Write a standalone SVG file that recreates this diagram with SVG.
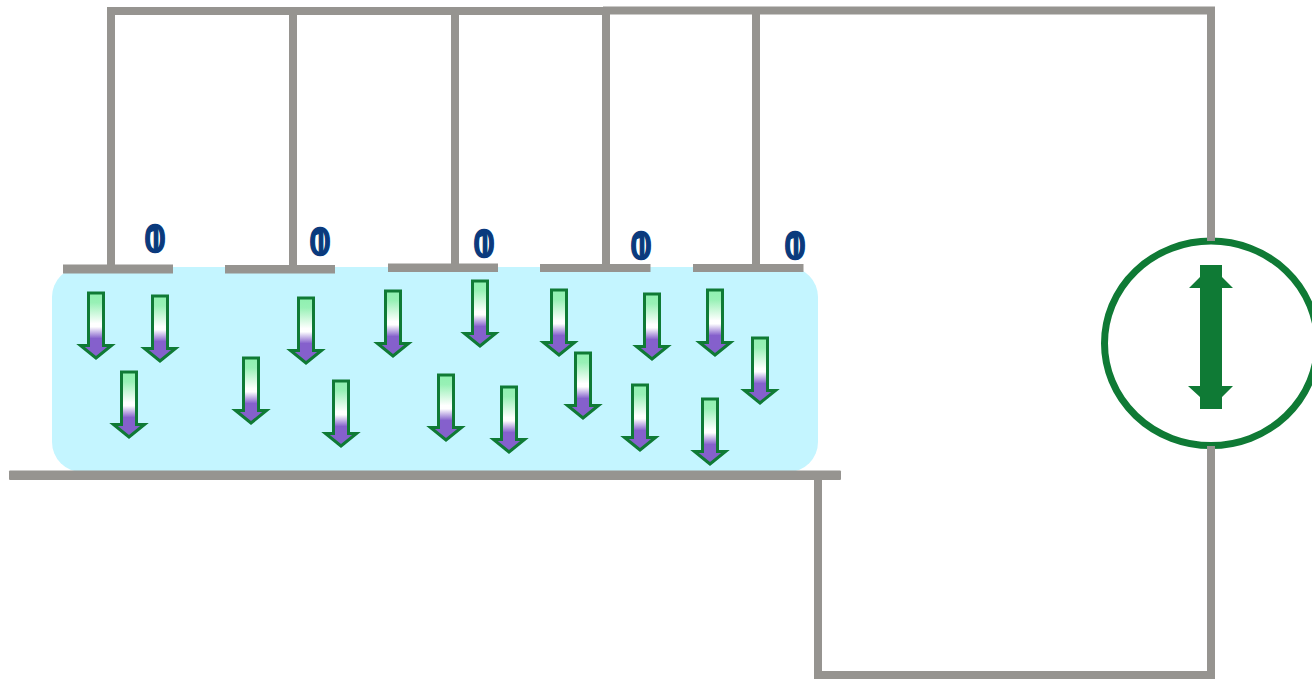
<svg xmlns="http://www.w3.org/2000/svg" width="1312" height="679" viewBox="0 0 1312 679">
<style>
.w{stroke:#969490;stroke-width:8;fill:none}
.t{font-size:37px;font-weight:400;fill:#0a3a7d;stroke:#0a3a7d;stroke-width:1.300;text-anchor:middle}
.z{font-family:"DejaVu Sans",sans-serif}
.o{font-family:Roboto,sans-serif}
.p{fill:#969490}
</style>
<defs>
<linearGradient id="g" x1="0" y1="0" x2="0" y2="1">
<stop offset="0" stop-color="#8ff0b0"/><stop offset=".15" stop-color="#98f1b6"/><stop offset=".47" stop-color="#fff"/><stop offset=".52" stop-color="#fff"/><stop offset=".7" stop-color="#8560cc"/><stop offset="1" stop-color="#8560cc"/>
</linearGradient>
<path id="a" d="M-7.500 0H7.500V52.500H15.500L0 65L-15.500 52.500H-7.500Z" fill="url(#g)" stroke="#0f7a35" stroke-width="3"/>
</defs>
<g id="electrolyte"><rect x="52" y="267" width="766" height="205" rx="30" fill="#c4f5ff"/></g>
<g id="source">
<ellipse cx="1211" cy="343.300" rx="106.500" ry="102.300" fill="#fff" stroke="#0f7a35" stroke-width="7"/>
<path fill="#0f7a35" d="M1200 265H1222V277L1233 288H1222V386H1233L1222 397V409H1200V397L1188 386H1200V288H1189L1200 277Z"/>
</g>
<g id="connectors">
<path class="w" d="M111 272V11H603M293 268V11M455 268V11M606 268V11M756 268V11M603 10.500H1211V241M1211 446V675H818V474"/>
</g>
<g id="electrode-1"><rect class="p" x="63" y="264.500" width="110" height="9"/><text class="t z" x="155" y="252">0</text><text class="t o" x="155" y="252">1</text></g>
<g id="electrode-2"><rect class="p" x="225" y="265" width="110" height="8.500"/><text class="t z" x="320" y="254.500">0</text><text class="t o" x="320" y="254.500">1</text></g>
<g id="electrode-3"><rect class="p" x="388" y="263.500" width="110" height="8.500"/><text class="t z" x="484" y="256.500">0</text><text class="t o" x="484" y="256.500">1</text></g>
<g id="electrode-4"><rect class="p" x="540" y="264" width="110.500" height="8"/><text class="t z" x="641" y="258.500">0</text><text class="t o" x="641" y="258.500">1</text></g>
<g id="electrode-5"><rect class="p" x="693" y="264" width="110.500" height="8"/><text class="t z" x="795" y="258.500">0</text><text class="t o" x="795" y="258.500">1</text></g>
<g id="base-plate"><rect class="p" x="9" y="470.500" width="832" height="9.500" rx="1"/></g>
<g id="arrows">
<use href="#a" x="96" y="293"/><use href="#a" x="160" y="296"/><use href="#a" x="129" y="372"/>
<use href="#a" x="306" y="298"/><use href="#a" x="251" y="358"/><use href="#a" x="341" y="381"/>
<use href="#a" x="393" y="291"/><use href="#a" x="480" y="281"/><use href="#a" x="446" y="375"/>
<use href="#a" x="509" y="387"/><use href="#a" x="559" y="290"/><use href="#a" x="652" y="294"/>
<use href="#a" x="583" y="353"/><use href="#a" x="640" y="385"/><use href="#a" x="715" y="290"/>
<use href="#a" x="760" y="338"/><use href="#a" x="710" y="399"/>
</g>
</svg>
